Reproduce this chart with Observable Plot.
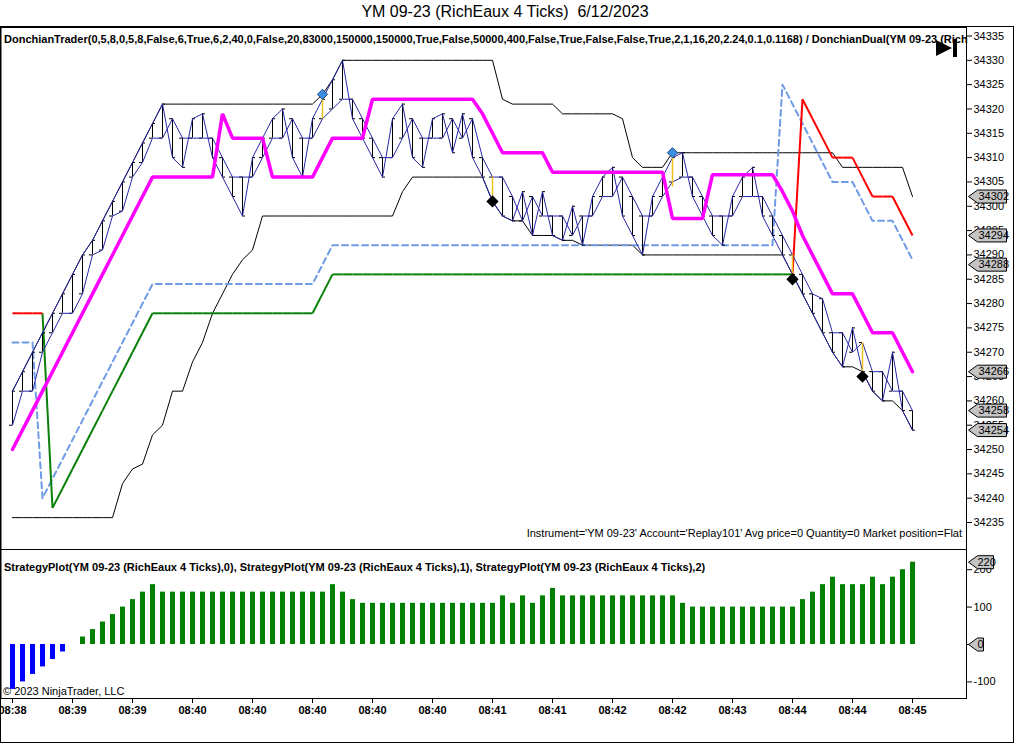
<!DOCTYPE html>
<html><head><meta charset="utf-8">
<script src="https://cdn.jsdelivr.net/npm/d3@7"></script>
<script src="https://cdn.jsdelivr.net/npm/@observablehq/plot@0.6"></script>
<style>
body{margin:0;background:#fff;font-family:"Liberation Sans",Arial,sans-serif;color:#000;}
#wrap{position:relative;width:1016px;height:744px;overflow:hidden;background:#fff;}
.abs{position:absolute;white-space:nowrap;}
#title{left:0;top:3px;width:1010px;text-align:center;font-size:16px;}
#outer{left:0;top:26px;width:1012px;height:715px;border:1px solid #000;}
#topPlot{left:0;top:27px;}
#botPlot{left:0;top:549px;}
#params{left:4px;top:33px;font-size:11px;font-weight:bold;}
#instr{right:54px;top:527px;font-size:11px;}
#strat{left:4px;top:561px;font-size:11px;font-weight:bold;}
#copy{left:3px;top:685px;font-size:11px;}
#play{left:934px;top:37px;}
</style></head>
<body><div id="wrap">
<div id="title" class="abs">YM 09-23 (RichEaux 4 Ticks)&nbsp; 6/12/2023</div>
<div id="outer" class="abs"></div>
<div id="topPlot" class="abs"></div>
<div id="botPlot" class="abs"></div>
<div id="params" class="abs">DonchianTrader(0,5,8,0,5,8,False,6,True,6,2,40,0,False,20,83000,150000,150000,True,False,50000,400,False,True,False,False,True,2,1,16,20,2.24,0.1,0.1168) / DonchianDual(YM 09-23 (Rich</div>
<div id="instr" class="abs">Instrument='YM 09-23' Account='Replay101' Avg price=0 Quantity=0 Market position=Flat</div>
<div id="strat" class="abs">StrategyPlot(YM 09-23 (RichEaux 4 Ticks),0), StrategyPlot(YM 09-23 (RichEaux 4 Ticks),1), StrategyPlot(YM 09-23 (RichEaux 4 Ticks),2)</div>
<div id="copy" class="abs">© 2023 NinjaTrader, LLC</div>
<svg id="play" class="abs" width="26" height="22"><polygon points="2,3 2,19 18,11" fill="#000"/><rect x="19" y="2" width="4" height="18" fill="#000"/></svg>
</div>
<script>
// ---- data ----
const openP = [34255,34262,34262,34270,34274,34278,34278,34282,34290,34291,34298,34299,34306,34309,34314,34314,34318,34314,34314,34314,
34314,34310,34306,34306,34306,34310,34314,34314,34318,34314,34314,34318,34320,34322,34322,34318,34314,34310,34310,34314,
34318,34314,34314,34314,34318,34314,34318,34310,34306,34306,34302,34297,34302,34298,34298,34298,34294,34298,34298,34302,
34302,34306,34302,34298,34298,34302,34305,34306,34306,34302,34298,34298,34298,34302,34302,34302,34298,34294,34290,34286,
34282,34281,34274,34274,34270,34272,34266,34266,34262,34262,34258];
const closeP = [34262,34266,34270,34274,34278,34282,34286,34290,34293,34297,34301,34305,34309,34313,34317,34321,34310,34308,34318,34319,
34310,34306,34302,34298,34310,34314,34318,34320,34310,34306,34318,34322,34326,34330,34318,34314,34310,34306,34318,34321,
34310,34308,34318,34319,34311,34319,34310,34306,34301,34298,34297,34303,34294,34303,34294,34293,34300,34292,34302,34306,
34308,34298,34294,34290,34302,34306,34310,34311,34302,34298,34294,34292,34302,34306,34308,34298,34294,34290,34286,34282,
34278,34274,34270,34267,34275,34266,34262,34260,34270,34258,34254];
const donchUpper = [34262,34266,34270,34274,34278,34282,34286,34290,34293,34297,34301,34305,34309,34313,34317,34321,34321,34321,34321,34321,
34321,34321,34321,34321,34321,34321,34321,34321,34321,34321,34321,34323,34326,34330,34330,34330,34330,34330,34330,34330,
34330,34330,34330,34330,34330,34330,34330,34330,34330,34322,34321,34321,34321,34321,34321,34319,34319,34319,34319,34319,
34319,34318,34310,34308,34308,34308,34311,34311,34311,34311,34311,34311,34311,34311,34311,34311,34311,34311,34311,34311,
34311,34311,34311,34308,34308,34308,34308,34308,34308,34308,34302];
const donchLower = [34236,34236,34236,34236,34236,34236,34236,34236,34236,34236,34236,34243,34246,34247,34253,34255,34262,34262,34268,34272,
34278,34282,34286,34289,34291,34298,34298,34298,34298,34298,34298,34298,34298,34298,34298,34298,34298,34298,34298,34303,
34306,34306,34306,34306,34306,34306,34306,34306,34301,34298,34297,34297,34294,34294,34294,34293,34293,34292,34292,34292,
34292,34292,34292,34290,34290,34290,34290,34290,34290,34290,34290,34290,34290,34290,34290,34290,34290,34290,34286,34282,
34278,34274,34270,34267,34267,34266,34262,34260,34260,34258,34254];
const magentaLine = [34250,34254,34258,34262,34266,34270,34274,34278,34282,34286,34290,34294,34298,34302,34306,34306,34306,34306,34306,34306,
34306,34319,34314,34314,34314,34314,34306,34306,34306,34306,34306,34310,34314,34314,34314,34314,34322,34322,34322,34322,
34322,34322,34322,34322,34322,34322,34322,34319,34315,34311,34311,34311,34311,34311,34307,34307,34307,34307,34307,34307,
34307,34307,34307,34307,34307,34307,34297.5,34297.5,34297.5,34297.5,34306.5,34306.5,34306.5,34306.5,34306.5,34306.5,34306.5,34303,34299,34294,
34290,34286,34282,34282,34282,34278,34274,34274,34274,34270,34266];
const stopLine = [34278,34278,34278,34278,34238,34242,34246,34250,34254,34258,34262,34266,34270,34274,34278,34278,34278,34278,34278,34278,
34278,34278,34278,34278,34278,34278,34278,34278,34278,34278,34278,34282,34286,34286,34286,34286,34286,34286,34286,34286,
34286,34286,34286,34286,34286,34286,34286,34286,34286,34286,34286,34286,34286,34286,34286,34286,34286,34286,34286,34286,
34286,34286,34286,34286,34286,34286,34286,34286,34286,34286,34286,34286,34286,34286,34286,34286,34286,34286,34286,34322,
34318,34314,34310,34310,34310,34306,34302,34302,34302,34298,34294];
const stopSide = ["S","S","S","S","L","L","L","L","L","L","L","L","L","L","L","L","L","L","L","L",
"L","L","L","L","L","L","L","L","L","L","L","L","L","L","L","L","L","L","L","L",
"L","L","L","L","L","L","L","L","L","L","L","L","L","L","L","L","L","L","L","L",
"L","L","L","L","L","L","L","L","L","L","L","L","L","L","L","L","L","L","L","S",
"S","S","S","S","S","S","S","S","S","S","S"];
const dashedLine = [34272,34272,34272,34240,34244,34248,34252,34256,34260,34264,34268,34272,34276,34280,34284,34284,34284,34284,34284,34284,
34284,34284,34284,34284,34284,34284,34284,34284,34284,34284,34284,34288,34292,34292,34292,34292,34292,34292,34292,34292,
34292,34292,34292,34292,34292,34292,34292,34292,34292,34292,34292,34292,34292,34292,34292,34292,34292,34292,34292,34292,
34292,34292,34292,34292,34292,34292,34292,34292,34292,34292,34292,34292,34292,34292,34292,34292,34292,34325,34321,34317,
34313,34309,34305,34305,34305,34301,34297,34297,34297,34293,34289];
const strategyPlot = [-120,-100,-80,-60,-40,-20,0,20,40,60,80,100,120,140,160,140,140,140,140,140,
140,140,140,140,140,140,140,140,140,140,140,140,160,140,120,110,110,110,110,110,
110,110,110,110,110,110,110,110,110,130,110,130,110,130,150,130,130,130,130,130,
130,130,130,130,130,130,130,110,100,100,100,100,100,100,100,100,100,100,100,120,
140,160,180,160,160,160,180,160,180,200,220];
const longEntryBars = [31, 66];
const longEntryPrice = [34323, 34311];
const shortEntryBars = [48, 78, 85];
const shortEntryPrice = [34301, 34285, 34265];
const signalBars = [31, 48, 66, 78, 85];
const signalLow = [34318, 34302, 34304, 34286, 34266];
const signalHigh = [34322, 34306, 34310, 34290, 34272];
const priceTicks = [34235,34240,34245,34250,34255,34260,34265,34270,34275,34280,34285,34290,34295,34300,34305,34310,34315,34320,34325,34330,34335];
const priceLabels = [34302, 34294, 34288, 34266, 34258, 34254];
const strategyTicks = [-100, 0, 100, 200];
const strategyLabels = [220, 0];
const timeTickBars = [0,6,12,18,24,30,36,42,48,54,60,66,72,78,84,90];
const timeLabels = ["08:38","08:39","08:39","08:40","08:40","08:40","08:40","08:40","08:41","08:41","08:42","08:42","08:43","08:44","08:44","08:45"];

// ---- build tables ----
const bars = openP.map((o, i) => ({i, o, c: closeP[i], hi: Math.max(o, closeP[i]), lo: Math.min(o, closeP[i])}));
const series = arr => arr.map((v, i) => ({i, v}));
const stopSegs = stopLine.slice(1).map((v, k) => ({x1: k, y1: stopLine[k], x2: k + 1, y2: v, side: stopSide[k + 1]}));
const longs = longEntryBars.map((b, k) => ({i: b, p: longEntryPrice[k]}));
const shorts = shortEntryBars.map((b, k) => ({i: b, p: shortEntryPrice[k]}));
const signals = signalBars.map((b, k) => ({i: b, lo: signalLow[k], hi: signalHigh[k]}));

const font = {fontFamily: "'Liberation Sans', Arial, sans-serif", fontSize: "11px", overflow: "visible", background: "transparent", color: "#000"};
function boxSymbol(w) {
  return {draw(ctx) {
    ctx.moveTo(0, 0); ctx.lineTo(9, -6.5); ctx.lineTo(w, -6.5); ctx.lineTo(w, 6.5); ctx.lineTo(9, 6.5); ctx.closePath();
  }};
}
const tipX = 95.6; // bar-units position of the label arrow tip (just right of the plot frame)

const topChart = Plot.plot({
  width: 1016, height: 522,
  marginLeft: 0.5, marginRight: 50, marginTop: 0, marginBottom: 0,
  style: font,
  x: {domain: [0, 90], range: [12, 912], axis: null},
  y: {domain: [34235, 34335], range: [495, 8.5]},
  marks: [
    Plot.axisY({anchor: "right", ticks: priceTicks, tickSize: 5, tickPadding: 2, fontSize: 11, label: null, tickFormat: d => String(d)}),
    Plot.line(series(donchLower), {x: "i", y: "v", stroke: "#000", strokeWidth: 1}),
    Plot.line(series(donchUpper), {x: "i", y: "v", stroke: "#000", strokeWidth: 1}),
    Plot.line(series(dashedLine), {x: "i", y: "v", stroke: "#6f9be6", strokeWidth: 2, strokeDasharray: "6,4"}),
    Plot.link(stopSegs.filter(d => d.side === "L"), {x1: "x1", y1: "y1", x2: "x2", y2: "y2", stroke: "#0a800a", strokeWidth: 2}),
    Plot.link(stopSegs.filter(d => d.side === "S"), {x1: "x1", y1: "y1", x2: "x2", y2: "y2", stroke: "#ff0000", strokeWidth: 2}),
    Plot.ruleX(bars, {x: "i", y1: "lo", y2: "hi", stroke: "#000", strokeWidth: 1}),
    Plot.ruleY(bars, {y: "o", x1: d => d.i - 0.3, x2: "i", stroke: "#000", strokeWidth: 1}),
    Plot.ruleY(bars, {y: "c", x1: "i", x2: d => d.i + 0.3, stroke: "#000", strokeWidth: 1}),
    Plot.line(bars, {x: "i", y: "o", stroke: "#2828a8", strokeWidth: 1}),
    Plot.line(bars, {x: "i", y: "c", stroke: "#2828a8", strokeWidth: 1}),
    Plot.line(series(magentaLine), {x: "i", y: "v", stroke: "#ff00ff", strokeWidth: 3.5, strokeLinejoin: "miter"}),
    Plot.ruleX(signals, {x: "i", y1: "lo", y2: "hi", stroke: "#f2c21c", strokeWidth: 1.5}),
    Plot.dot(longs, {x: "i", y: "p", symbol: "diamond2", r: 4.6, fill: "#3c8fe0", stroke: "#1d4f8a", strokeWidth: 1}),
    Plot.dot(shorts, {x: "i", y: "p", symbol: "diamond2", r: 4.6, fill: "#000", stroke: "#000"}),
    Plot.dot(priceLabels, {x: () => tipX, y: d => d, symbol: boxSymbol(38), r: 5, fill: "#c4c4c4", stroke: "#000", strokeWidth: 1}),
    Plot.text(priceLabels, {x: () => tipX, y: d => d, text: d => String(d), dx: 10, textAnchor: "start", fontSize: 11, fill: "#000"}),
    Plot.frame({stroke: "#000", strokeWidth: 1})
  ]
});
document.getElementById("topPlot").appendChild(topChart);

const stratData = series(strategyPlot);
const botChart = Plot.plot({
  width: 1016, height: 195,
  marginLeft: 0.5, marginRight: 50, marginTop: 0, marginBottom: 46,
  style: font,
  x: {domain: [0, 90], range: [12, 912]},
  y: {domain: [0, 220], range: [95, 12.7]},
  marks: [
    Plot.axisY({anchor: "right", ticks: strategyTicks, tickSize: 5, tickPadding: 2, fontSize: 11, label: null, tickFormat: d => String(d)}),
    Plot.axisX({anchor: "bottom", ticks: timeTickBars, tickSize: 5, tickPadding: 3, fontSize: 11, fontWeight: "bold", label: null,
      tickFormat: d => timeLabels[timeTickBars.indexOf(d)]}),
    Plot.ruleX(stratData.filter(d => d.v > 0), {x: "i", y1: 0, y2: "v", stroke: "#008000", strokeWidth: 5}),
    Plot.ruleX(stratData.filter(d => d.v < 0), {x: "i", y1: 0, y2: "v", stroke: "#0000ff", strokeWidth: 5}),
    Plot.dot(strategyLabels.filter(d => d !== 0), {x: () => tipX, y: d => d, symbol: boxSymbol(25), r: 5, fill: "#c4c4c4", stroke: "#000", strokeWidth: 1}),
    Plot.dot(strategyLabels.filter(d => d === 0), {x: () => tipX, y: d => d, symbol: boxSymbol(15), r: 5, fill: "#c4c4c4", stroke: "#000", strokeWidth: 1}),
    Plot.text(strategyLabels, {x: () => tipX, y: d => d, text: d => String(d), dx: 9, textAnchor: "start", fontSize: 11, fill: "#000"}),
    Plot.frame({stroke: "#000", strokeWidth: 1})
  ]
});
document.getElementById("botPlot").appendChild(botChart);
</script>
</body></html>
